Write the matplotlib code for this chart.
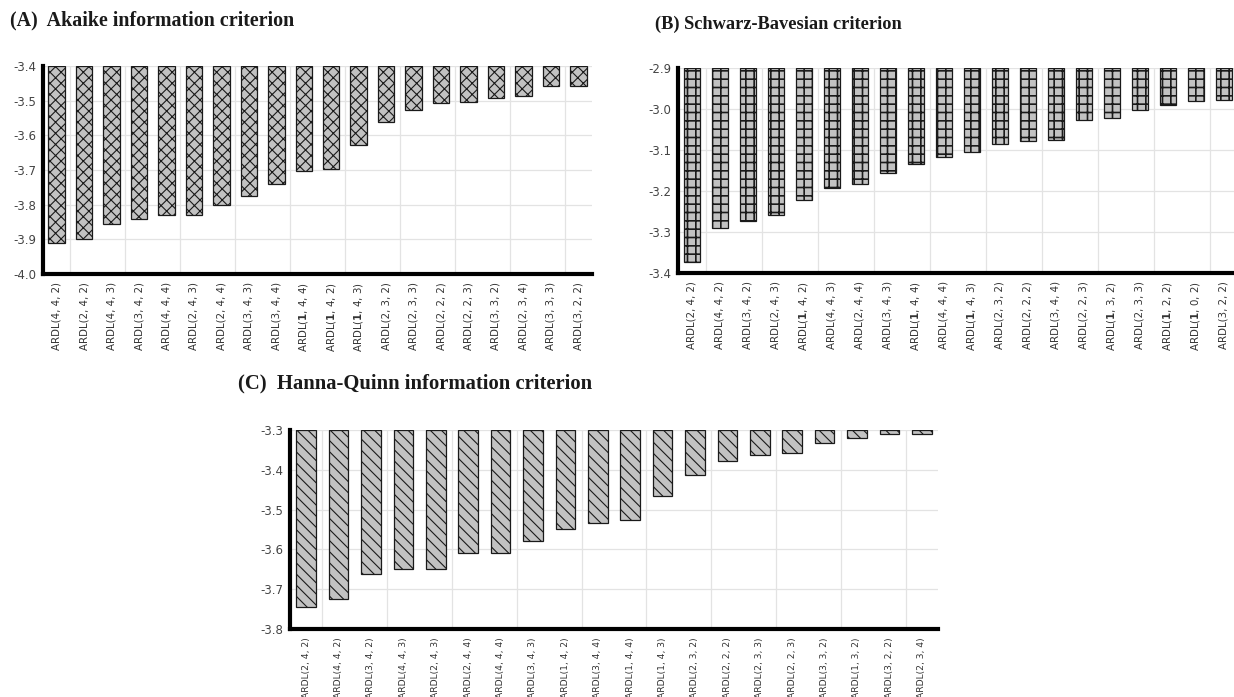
import matplotlib
matplotlib.use("Agg")
import matplotlib.pyplot as plt
import numpy as np

plt.rcParams['axes.unicode_minus'] = False
plt.rcParams['font.family'] = ['DejaVu Sans']

# ---- data ----
labels_a = ["4, 4, 2", "2, 4, 2", "4, 4, 3", "3, 4, 2", "4, 4, 4", "2, 4, 3", "2, 4, 4",
            "3, 4, 3", "3, 4, 4", "1, 4, 4", "1, 4, 2", "1, 4, 3", "2, 3, 2", "2, 3, 3",
            "2, 2, 2", "2, 2, 3", "3, 3, 2", "2, 3, 4", "3, 3, 3", "3, 2, 2"]
values_a = [-3.910, -3.898, -3.857, -3.842, -3.831, -3.829, -3.800, -3.775, -3.740, -3.704,
            -3.698, -3.629, -3.562, -3.526, -3.508, -3.503, -3.491, -3.486, -3.457, -3.457]

labels_b = ["2, 4, 2", "4, 4, 2", "3, 4, 2", "2, 4, 3", "1, 4, 2", "4, 4, 3", "2, 4, 4",
            "3, 4, 3", "1, 4, 4", "4, 4, 4", "1, 4, 3", "2, 3, 2", "2, 2, 2", "3, 4, 4",
            "2, 2, 3", "1, 3, 2", "2, 3, 3", "1, 2, 2", "1, 0, 2", "3, 2, 2"]
values_b = [-3.374, -3.291, -3.273, -3.258, -3.222, -3.193, -3.183, -3.155, -3.133, -3.116,
            -3.104, -3.086, -3.077, -3.075, -3.026, -3.021, -3.002, -2.990, -2.981, -2.978]

labels_c = ["2, 4, 2", "4, 4, 2", "3, 4, 2", "4, 4, 3", "2, 4, 3", "2, 4, 4", "4, 4, 4",
            "3, 4, 3", "1, 4, 2", "3, 4, 4", "1, 4, 4", "1, 4, 3", "2, 3, 2", "2, 2, 2",
            "2, 3, 3", "2, 2, 3", "3, 3, 2", "1, 3, 2", "3, 2, 2", "2, 3, 4"]
values_c = [-3.744, -3.725, -3.662, -3.649, -3.649, -3.608, -3.608, -3.579, -3.548, -3.533,
            -3.526, -3.467, -3.414, -3.377, -3.364, -3.357, -3.332, -3.320, -3.310, -3.310]

ticks_a = [-3.4, -3.5, -3.6, -3.7, -3.8, -3.9, -4.0]
ticks_b = [-2.9, -3.0, -3.1, -3.2, -3.3, -3.4]
ticks_c = [-3.3, -3.4, -3.5, -3.6, -3.7, -3.8]

title_a = "(A)  Akaike information criterion"
title_b = "(B) Schwarz-Bavesian criterion"
title_c = "(C)  Hanna-Quinn information criterion"

W, H = 1234, 697
fig = plt.figure(figsize=(W / 100, H / 100), dpi=100)


def fmt_label(lab, bold_one=True):
    parts = lab.split(", ")
    if bold_one and parts[0] == "1":
        return r"ARDL($\mathbf{1}$, " + ", ".join(parts[1:]) + ")"
    return "ARDL(" + lab + ")"


def make_panel(rect_px, labels, values, ticks, hatch, hatch_lw, bold_one, label_size):
    l, t, r, b = rect_px
    ax = fig.add_axes([l / W, 1 - b / H, (r - l) / W, (b - t) / H])
    top, bottom = max(ticks), min(ticks)
    x = np.arange(len(values))
    with plt.rc_context({'hatch.linewidth': hatch_lw, 'hatch.color': '#1a1a1a'}):
        bars = ax.bar(x, np.array(values) - top, bottom=top, width=0.6,
                      color='#c2c2c2', edgecolor='#1a1a1a', linewidth=0.9,
                      hatch=hatch, zorder=3)
    for p in bars:
        if hasattr(p, "set_hatch_linewidth"):
            p.set_hatch_linewidth(hatch_lw)
    ax.set_xlim(-0.5, len(values) - 0.5)
    ax.set_ylim(bottom, top)
    ax.set_yticks(ticks)
    ax.set_yticklabels([f"{v:.1f}" for v in ticks], fontsize=8.5, color='#444444')
    ax.set_xticks(x)
    ax.set_xticklabels([fmt_label(lb, bold_one) for lb in labels], rotation=90,
                       fontsize=label_size, color='#333333', va='top', ha='center')
    ax.tick_params(axis='y', length=0, pad=5)
    ax.tick_params(axis='x', length=0, pad=6)
    # gridlines
    for v in ticks:
        ax.axhline(v, color='#e3e3e3', lw=0.9, zorder=0)
    for gx in np.arange(0.5, len(values) - 0.5, 2):
        ax.axvline(gx, color='#e3e3e3', lw=0.9, zorder=0)
    for s in ['top', 'right']:
        ax.spines[s].set_visible(False)
    ax.spines['left'].set_linewidth(3)
    ax.spines['bottom'].set_linewidth(3)
    ax.spines['left'].set_zorder(5)
    ax.spines['bottom'].set_zorder(5)
    return ax


make_panel((43, 66, 592, 274), labels_a, values_a, ticks_a, 'xxx', 0.8, True, 7.4)
make_panel((678, 68, 1238, 273), labels_b, values_b, ticks_b, '++', 1.2, True, 7.4)
make_panel((290, 430, 938, 629), labels_c, values_c, ticks_c, '\\\\\\', 0.8, False, 6.6)

fig.text(10 / W, 1 - 20 / H, title_a, family='Liberation Serif', weight='bold',
         fontsize=14.4, va='center', ha='left', color='#1a1a1a')
fig.text(655 / W, 1 - 24 / H, title_b, family='Liberation Serif', weight='bold',
         fontsize=13.2, va='center', ha='left', color='#1a1a1a')
fig.text(238 / W, 1 - 383 / H, title_c, family='Liberation Serif', weight='bold',
         fontsize=14.9, va='center', ha='left', color='#1a1a1a')

fig.savefig("out.png", dpi=100)
